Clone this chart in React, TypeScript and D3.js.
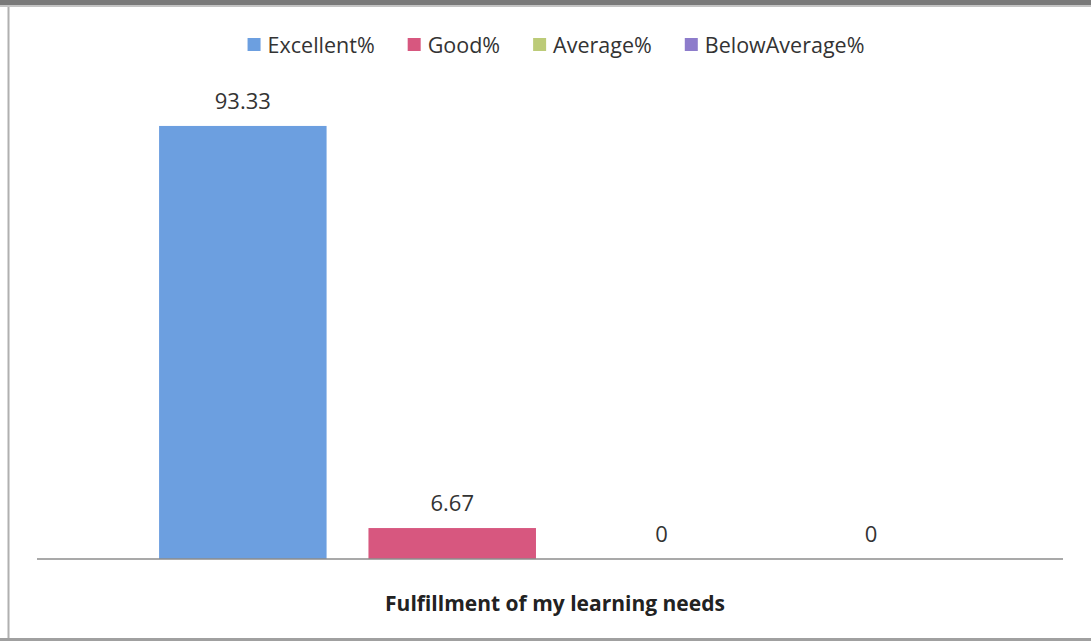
import { useEffect, useRef } from 'react';
import * as d3 from 'd3';

const series = ['Excellent%', 'Good%', 'Average%', 'BelowAverage%'];
const values = [93.33, 6.67, 0, 0];
const valueLabels = ['93.33', '6.67', '0', '0'];
const colors = ['#6c9fe0', '#d7577f', '#bccb78', '#8d7ccb'];
const categoryTitle = 'Fulfillment of my learning needs';

const W = 1091;
const H = 641;
const FONT = '"Open Sans", "Noto Sans", sans-serif';

const App = () => {
  const svgRef = useRef<SVGSVGElement>(null);

  useEffect(() => {
    if (!svgRef.current) return;
    const svg = d3.select(svgRef.current);
    svg.selectAll('*').remove();

    // plot area
    const axisY = 559;
    const plotLeft = 37;
    const plotRight = 1063;

    const x = d3
      .scaleBand<string>()
      .domain(series)
      .range([plotLeft, plotRight])
      .paddingInner(0.2)
      .paddingOuter(0.55)
      .align(0.53);

    const y = d3.scaleLinear().domain([0, 100]).range([axisY, 95]);

    // scan-like frame
    svg.append('rect').attr('x', 0).attr('y', 0).attr('width', W).attr('height', H).attr('fill', '#fff');
    svg.append('rect').attr('x', 0).attr('y', 0).attr('width', W).attr('height', 5).attr('fill', '#7a7a7a');
    svg.append('rect').attr('x', 0).attr('y', 5).attr('width', W).attr('height', 2).attr('fill', '#c4c4c4');
    svg.append('rect').attr('x', 0).attr('y', 638).attr('width', W).attr('height', 3).attr('fill', '#a0a0a0');
    svg
      .append('line')
      .attr('x1', 8.5)
      .attr('x2', 8.5)
      .attr('y1', 7)
      .attr('y2', 638)
      .attr('stroke', '#b0b0b0')
      .attr('stroke-width', 2);

    // bars
    svg
      .append('g')
      .selectAll('rect')
      .data(values)
      .join('rect')
      .attr('x', (_, i) => x(series[i])!)
      .attr('width', x.bandwidth())
      .attr('y', (d) => y(d))
      .attr('height', (d) => axisY - y(d))
      .attr('fill', (_, i) => colors[i]);

    // axis line
    svg
      .append('line')
      .attr('x1', plotLeft)
      .attr('x2', plotRight)
      .attr('y1', axisY)
      .attr('y2', axisY)
      .attr('stroke', '#8c8c8c')
      .attr('stroke-width', 1.5);

    // data labels
    svg
      .append('g')
      .selectAll('text')
      .data(values)
      .join('text')
      .attr('x', (_, i) => x(series[i])! + x.bandwidth() / 2)
      .attr('y', (d) => y(d) - 17)
      .attr('text-anchor', 'middle')
      .attr('font-family', FONT)
      .attr('font-size', 22)
      .attr('fill', '#333')
      .text((_, i) => valueLabels[i]);

    // category title
    svg
      .append('text')
      .attr('x', 555)
      .attr('y', 611)
      .attr('text-anchor', 'middle')
      .attr('font-family', FONT)
      .attr('font-size', 21)
      .attr('font-weight', 'bold')
      .attr('fill', '#222')
      .text(categoryTitle);

    // legend, measured and centred
    const legend = svg.append('g');
    const items = legend
      .selectAll('g')
      .data(series)
      .join('g');
    items
      .append('rect')
      .attr('width', 13)
      .attr('height', 13)
      .attr('y', -15)
      .attr('fill', (_, i) => colors[i]);
    const texts = items
      .append('text')
      .attr('x', 20)
      .attr('font-family', FONT)
      .attr('font-size', 21.5)
      .attr('fill', '#333')
      .text((d) => d);
    const widths: number[] = [];
    texts.each(function () {
      widths.push((this as SVGTextElement).getComputedTextLength() + 20);
    });
    const gap = 33;
    const total = d3.sum(widths) + gap * (widths.length - 1);
    let cx = 556 - total / 2;
    items.attr('transform', (_, i) => {
      const t = `translate(${cx},53)`;
      cx += widths[i] + gap;
      return t;
    });
  }, []);

  return (
    <div style={{ position: 'fixed', left: 0, top: 0 }}>
      <svg ref={svgRef} width={W} height={H} style={{ display: 'block' }} />
    </div>
  );
};

export default App;
